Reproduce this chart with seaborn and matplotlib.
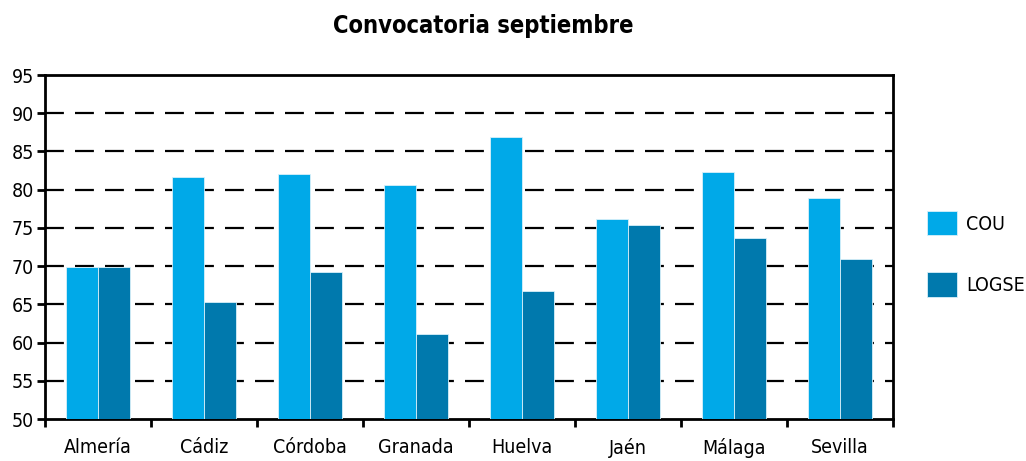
import numpy as np
import pandas as pd
import matplotlib.pyplot as plt
import seaborn as sns

# datos
provincias = ["Almería", "Cádiz", "Córdoba", "Granada", "Huelva", "Jaén", "Málaga", "Sevilla"]
cou = [69.9, 81.7, 82.0, 80.6, 86.9, 76.1, 82.3, 78.9]
logse = [69.9, 65.3, 69.2, 61.1, 66.7, 75.4, 73.7, 70.9]
series = ["COU", "LOGSE"]
colores = ["#00A9E8", "#0079AD"]

df = pd.DataFrame({"Provincia": provincias * 2,
                   "Aprobados": cou + logse,
                   "Tipo": [series[0]] * len(provincias) + [series[1]] * len(provincias)})

sns.set_style("white")
plt.rcParams["font.family"] = ["DejaVu Sans"]
plt.rcParams["font.stretch"] = "condensed"
plt.rcParams["text.color"] = "black"
plt.rcParams["xtick.color"] = "black"
plt.rcParams["ytick.color"] = "black"

fig = plt.figure(figsize=(10.26, 4.61), dpi=100)
ax = fig.add_axes([0.0439, 0.0911, 0.8265, 0.7462])

sns.barplot(data=df, x="Provincia", y="Aprobados", hue="Tipo", palette=colores, saturation=1,
            width=0.6, edgecolor="#d8f0fa", linewidth=0.6, ax=ax, zorder=3)

ax.set_ylim(50, 95)
ax.set_yticks(np.arange(50, 96, 5))
ax.set_xlim(-0.5, len(provincias) - 0.5)
ax.set_xticks(np.arange(-0.5, len(provincias), 1), minor=True)
ax.tick_params(axis="x", which="major", bottom=False, length=0, labelsize=14, pad=14)
ax.tick_params(axis="x", which="minor", bottom=True, length=6, width=2, direction="out")
ax.tick_params(axis="y", left=True, length=6, width=2, direction="out", labelsize=14, pad=2)

for y in np.arange(55, 91, 5):
    ax.axhline(y, color="black", linewidth=1.6, linestyle=(0, (8.5, 5)), zorder=1)

for s in ax.spines.values():
    s.set_color("black")
    s.set_linewidth(2)

ax.set_xlabel("")
ax.set_ylabel("")
ax.set_title("Convocatoria septiembre", fontsize=17, fontweight="bold", pad=30, x=0.5165)

handles, labels = ax.get_legend_handles_labels()
ax.legend(handles, labels, loc="center left", bbox_to_anchor=(1.040, 0.48), frameon=False,
          fontsize=14, borderpad=0, borderaxespad=0, handlelength=1.55, handleheight=1.55,
          labelspacing=1.9, handletextpad=0.45)

fig.savefig("out.png", dpi=100)
